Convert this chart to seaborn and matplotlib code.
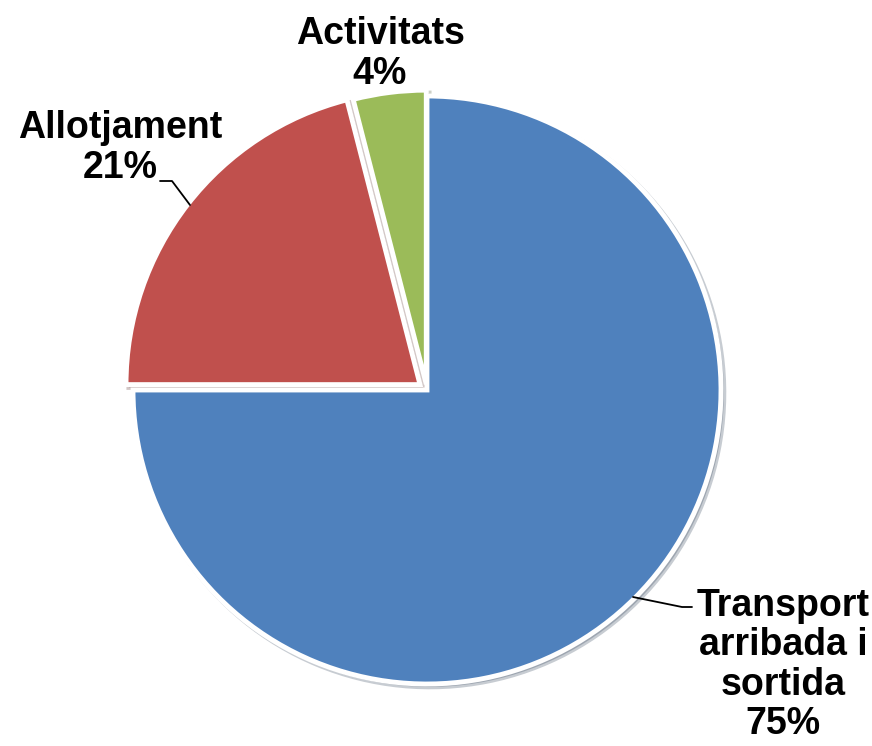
import matplotlib
matplotlib.use("Agg")
from matplotlib import pyplot as plt
import seaborn as sns

labels = ["Transport\narribada i\nsortida", "Allotjament", "Activitats"]
values = [75, 21, 4]
colors = ["#4F81BD", "#C0504D", "#9BBB59"]
explode = [0.0, 0.03, 0.02]

sns.set_style("white")
plt.rcParams["font.family"] = ["Liberation Sans", "DejaVu Sans"]

W, H = 872, 746
CX, CY, R = 427, 390, 294


def px(x, y):
    # pixel position -> data units (pie radius = 1)
    return (x - CX) / R, (CY - y) / R


fig = plt.figure(figsize=(W / 100, H / 100), dpi=100)
ax = fig.add_axes([0, 0, 1, 1])
ax.pie(values, colors=colors, explode=explode, startangle=90, counterclock=False,
       radius=1.0, wedgeprops={"edgecolor": "white", "linewidth": 3.5},
       shadow={"ox": 0.007, "oy": -0.007, "shade": 0.6, "alpha": 0.25})
ax.set_xlim(-CX / R, (W - CX) / R)
ax.set_ylim(-(H - CY) / R, CY / R)
ax.set_aspect("equal")
ax.axis("off")

label_pos = [(380, 54), (120, 148), (783, 665)]
label_pos = [label_pos[2], label_pos[1], label_pos[0]]
for lab, v, (x, y) in zip(labels, values, label_pos):
    ax.text(*px(x, y), f"{lab}\n{v}%", ha="center", va="center", multialignment="center",
            fontsize=27, fontweight="bold", linespacing=1.12, color="black")

leaders = [[(633, 597), (682, 607), (692, 607)],
           [(190, 205), (172, 181), (160, 181)]]
for pts in leaders:
    xs, ys = zip(*[px(a, b) for a, b in pts])
    ax.plot(xs, ys, color="black", lw=1.3)

fig.savefig("out.png", dpi=100)
